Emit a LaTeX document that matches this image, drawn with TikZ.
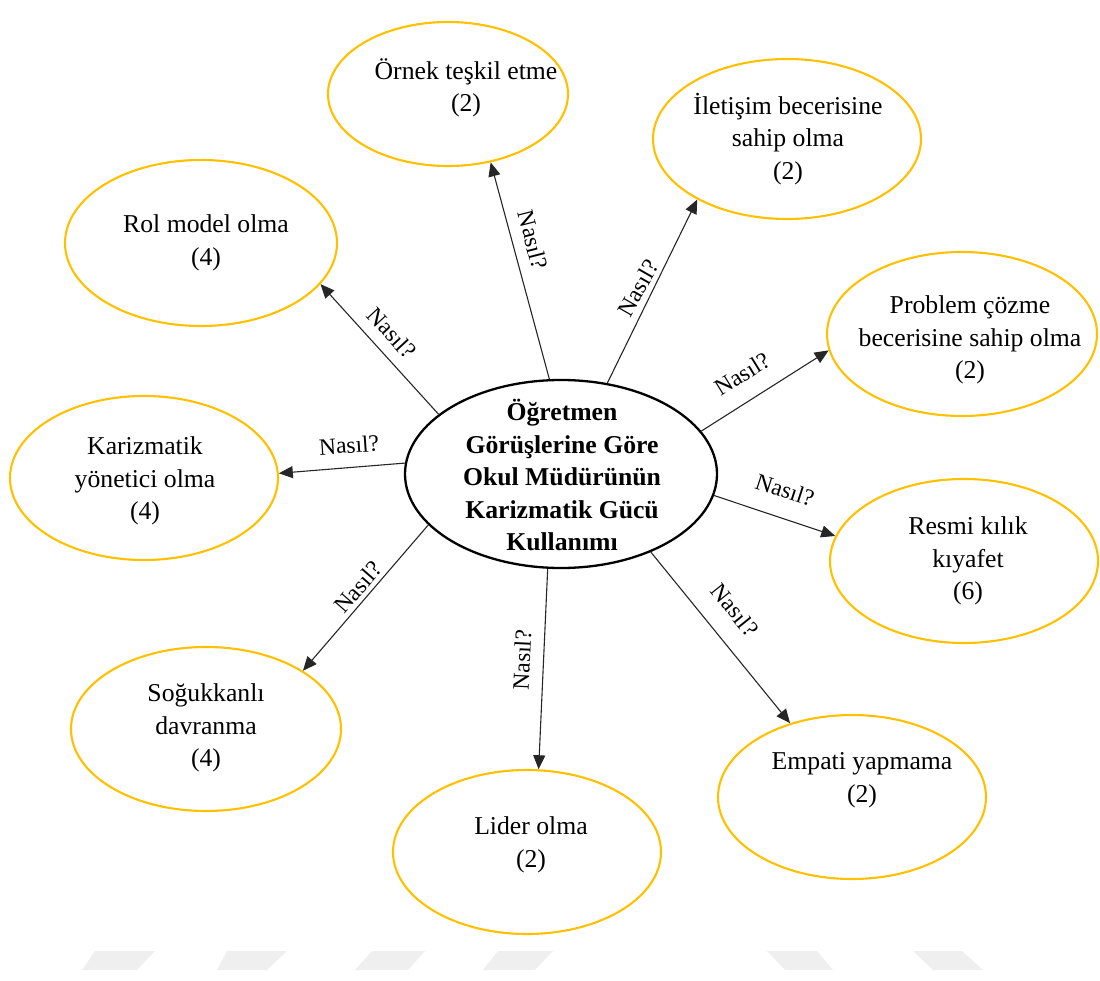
\documentclass[tikz,border=0pt]{standalone}
\usepackage{fontspec}
\setmainfont{Liberation Serif}
\usetikzlibrary{shapes.geometric,arrows.meta}
\definecolor{gold}{HTML}{FFC000}
\definecolor{wm}{HTML}{EFEFEF}
\tikzset{
  item/.style={ellipse, draw=gold, line width=2.1pt, inner sep=0pt},
  hub/.style={ellipse, draw=black, line width=2.3pt, inner sep=0pt},
  itemtext/.style={align=center, inner sep=0pt, font=\fontsize{25.7}{32.5}\selectfont},
  hubtext/.style={align=center, inner sep=0pt, font=\fontsize{25.7}{32.5}\selectfont\bfseries},
  how/.style={inner sep=0pt, font=\fontsize{23.5}{28}\selectfont},
  link/.style={draw=black!85, line width=1.1pt, -{Triangle[length=14pt,width=12pt]}},
}
\begin{document}
\begin{tikzpicture}[x=1pt,y=-1pt]
\useasboundingbox (0,0) rectangle (1100,981);

% faint strip of slanted blocks along the bottom
\fill[wm] (95,951) -- (155,951) -- (137,970) -- (82,970) -- cycle;
\fill[wm] (227,951) -- (287,951) -- (267,970) -- (217,970) -- cycle;
\fill[wm] (372,951) -- (425,951) -- (408,970) -- (355,970) -- cycle;
\fill[wm] (498,951) -- (553,951) -- (535,970) -- (483,970) -- cycle;
\fill[wm] (767,951) -- (817,951) -- (833,970) -- (785,970) -- cycle;
\fill[wm] (913,951) -- (962,951) -- (983,970) -- (933,970) -- cycle;

% central concept
\node[hub, minimum width=312pt, minimum height=188pt] (hub) at (561,474) {};
\node[hubtext] (hubt) at (562,475) {Öğretmen\\Görüşlerine Göre\\Okul Müdürünün\\Karizmatik Gücü\\Kullanımı};

% surrounding ellipses
\node[item, minimum width=240pt, minimum height=144pt] (ornek) at (448,94) {};
\node[item, minimum width=268pt, minimum height=160pt] (ilet) at (787,139) {};
\node[item, minimum width=272pt, minimum height=166pt] (rol) at (201,243) {};
\node[item, minimum width=270pt, minimum height=164pt] (prob) at (962,334) {};
\node[item, minimum width=268pt, minimum height=164pt] (kariz) at (144,478) {};
\node[item, minimum width=268pt, minimum height=164pt] (resmi) at (964,561) {};
\node[item, minimum width=270pt, minimum height=164pt] (soguk) at (206,729) {};
\node[item, minimum width=268pt, minimum height=164pt] (empati) at (852,797) {};
\node[item, minimum width=268pt, minimum height=164pt] (lider) at (527,852) {};

% texts of the ellipses
\node[itemtext] (ornekt) at (466,88) {Örnek teşkil etme\\(2)};
\node[itemtext] (iletT) at (788,139) {İletişim becerisine\\sahip olma\\(2)};
\node[itemtext] (rolt) at (206,243) {Rol model olma\\(4)};
\node[itemtext] (probt) at (970,340) {Problem çözme\\becerisine sahip olma\\(2)};
\node[itemtext] (karizt) at (145,481) {Karizmatik\\yönetici olma\\(4)};
\node[itemtext] (resmit) at (968,561) {Resmi kılık\\kıyafet\\(6)};
\node[itemtext] (sogukt) at (206,728) {Soğukkanlı\\davranma\\(4)};
\node[itemtext] (empatit) at (862,780) {Empati yapmama\\(2)};
\node[itemtext] (lidert) at (531,845) {Lider olma\\(2)};

% connectors
\draw[link] (hub.154.2) -- (rol.-19.2);
\draw[link] (hub.97.9) -- (ornek.-58);
\draw[link] (hub.63.7) -- (ilet.214.8);
\draw[link] (hub.17.1) -- (prob.187.8);
\draw[link] (hub.176) -- (kariz.2.7);
\draw[link] (hub.-8.1) -- (resmi.169.1);
\draw[link] (hub.-41.4) -- (empati.130.4);
\draw[link] (hub.262.6) -- (lider.82);
\draw[link] (hub.201.3) -- (soguk.31.3);

% connector labels
\node[how, rotate=-47.3] (q1) at (392,333) {Nasıl?};
\node[how, rotate=-75.6] (q2) at (533,240) {Nasıl?};
\node[how, rotate=60.2] (q3) at (638,288) {Nasıl?};
\node[how, rotate=31.8] (q4) at (742,374) {Nasıl?};
\node[how, rotate=3.9] (q5) at (349,445) {Nasıl?};
\node[how, rotate=-18] (q6) at (785,490) {Nasıl?};
\node[how, rotate=-51.2] (q7) at (735,610) {Nasıl?};
\node[how, rotate=87.3] (q8) at (522,660) {Nasıl?};
\node[how, rotate=48.8] (q9) at (358,587) {Nasıl?};
\end{tikzpicture}
\end{document}
